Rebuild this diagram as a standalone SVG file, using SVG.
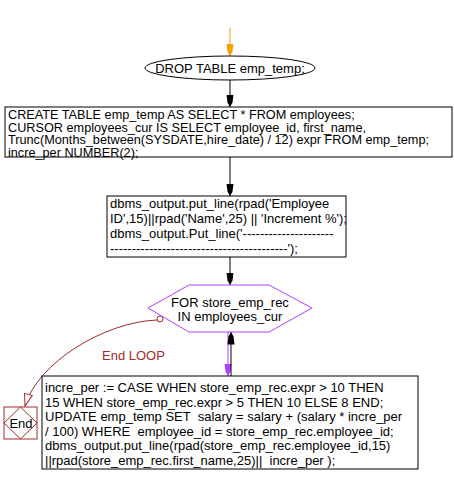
<svg xmlns="http://www.w3.org/2000/svg" width="454" height="484" viewBox="0 0 454 484">
<style>
text{font-family:"Liberation Sans",Arial,sans-serif;font-size:13px;fill:#000;white-space:pre}
.sm{font-size:12.7px}
.box{fill:#fff;stroke:#000;stroke-width:1}
.ln{fill:none;stroke:#000;stroke-width:1}
.red{fill:#a52a2a}
</style>
<defs>
<marker id="ab" markerWidth="13" markerHeight="8" refX="12.5" refY="3.5" orient="auto" markerUnits="userSpaceOnUse" viewBox="0 0 13 7">
<path d="M0,0 L8,1 L12.5,3.5 L8,6 L0,7 Z" fill="#000"/>
</marker>
<marker id="ao" markerWidth="13" markerHeight="8" refX="12.5" refY="3.5" orient="auto" markerUnits="userSpaceOnUse" viewBox="0 0 13 7">
<path d="M0,0 L8,1 L12.5,3.5 L8,6 L0,7 Z" fill="#f5a000"/>
</marker>
<marker id="ap" markerWidth="13" markerHeight="8" refX="12.5" refY="3.5" orient="auto" markerUnits="userSpaceOnUse" viewBox="0 0 13 7">
<path d="M0,0 L8,1 L12.5,3.5 L8,6 L0,7 Z" fill="#b040ff"/>
</marker>
<marker id="ar" markerWidth="14" markerHeight="11" refX="13" refY="5" orient="auto" markerUnits="userSpaceOnUse" viewBox="0 0 14 10">
<path d="M1,1 L13,5 L1,9 Z" fill="#fff" stroke="#a52a2a" stroke-width="1"/>
</marker>
</defs>
<g id="connectors">
<line x1="230" y1="28" x2="230" y2="56" stroke="#f5a000" marker-end="url(#ao)"/>
<line class="ln" x1="230" y1="80" x2="230" y2="107" marker-end="url(#ab)"/>
<line class="ln" x1="230" y1="157" x2="230" y2="196" marker-end="url(#ab)"/>
<line class="ln" x1="230" y1="257" x2="230" y2="285" marker-end="url(#ab)"/>
<line x1="228" y1="332" x2="228" y2="376" stroke="#b040ff" marker-end="url(#ap)"/>
<line class="ln" x1="231" y1="376" x2="231" y2="332" marker-end="url(#ab)"/>
<path d="M157,320 C105,322 38,362 25,406" fill="none" stroke="#a52a2a" marker-end="url(#ar)"/>
<circle cx="160" cy="319" r="3" fill="#fff" stroke="#a52a2a"/>
<text class="red" x="102" y="360">End LOOP</text>
</g>
<g id="drop">
<ellipse cx="230" cy="68" rx="85" ry="12" class="box"/>
<text x="230" y="73" text-anchor="middle">DROP TABLE emp_temp;</text>
</g>
<g id="create">
<rect x="5" y="107" width="447" height="50" class="box"/>
<text class="sm" x="8" y="119">CREATE TABLE emp_temp AS SELECT * FROM employees;</text>
<text class="sm" x="8" y="131.5">CURSOR employees_cur IS SELECT employee_id, first_name,</text>
<text class="sm" x="8" y="144">Trunc(Months_between(SYSDATE,hire_date) / 12) expr FROM emp_temp;</text>
<text class="sm" x="8" y="156.5">incre_per NUMBER(2);</text>
</g>
<g id="header">
<rect x="107" y="196" width="239" height="61" class="box"/>
<text x="110" y="208">dbms_output.put_line(rpad('Employee</text>
<text x="110" y="223">ID',15)||rpad('Name',25) || 'Increment %');</text>
<text x="110" y="238">dbms_output.Put_line('---------------------</text>
<text x="110" y="253">-----------------------------------------');</text>
</g>
<g id="loop">
<polygon points="148,308 189,285 269,285 312,308 269,332 189,332" fill="#fff" stroke="#b040ff"/>
<text x="230" y="307" text-anchor="middle">FOR store_emp_rec</text>
<text x="230" y="321" text-anchor="middle">IN employees_cur</text>
</g>
<g id="body">
<rect x="42" y="376" width="376" height="93" class="box"/>
<text x="45" y="392">incre_per := CASE WHEN store_emp_rec.expr &gt; 10 THEN</text>
<text x="45" y="407">15 WHEN store_emp_rec.expr &gt; 5 THEN 10 ELSE 8 END;</text>
<text x="45" y="421">UPDATE emp_temp SET  salary = salary + (salary * incre_per</text>
<text x="45" y="435.5">/ 100) WHERE  employee_id = store_emp_rec.employee_id;</text>
<text x="45" y="450">dbms_output.put_line(rpad(store_emp_rec.employee_id,15)</text>
<text x="45" y="464.5">||rpad(store_emp_rec.first_name,25)||  incre_per );</text>
</g>
<g id="end">
<rect x="4" y="407" width="33" height="32" fill="#fff" stroke="#a52a2a"/>
<polygon points="20.5,407 37,423 20.5,439 4,423" fill="none" stroke="#a52a2a"/>
<text x="21" y="428" text-anchor="middle">End</text>
</g>
</svg>
